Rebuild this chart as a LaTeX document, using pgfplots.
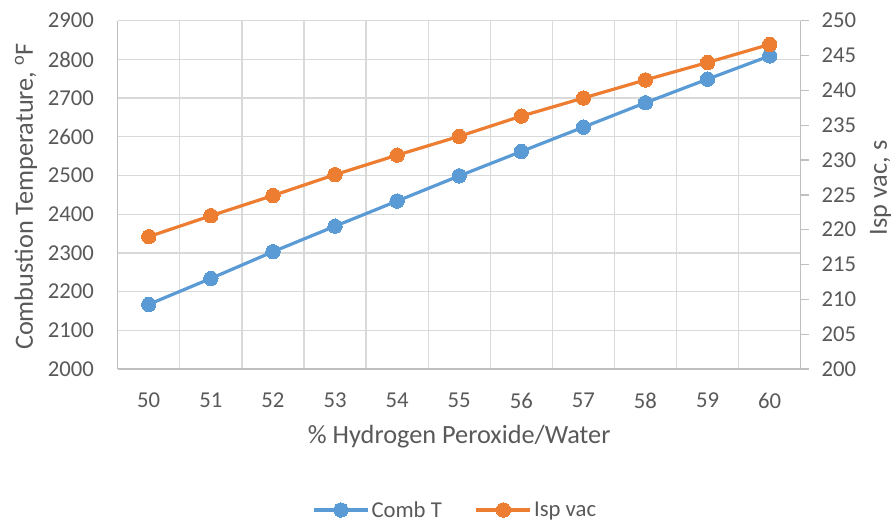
\documentclass[border=0pt]{standalone}
\usepackage{pgfplots}
\pgfplotsset{compat=1.18}
\usepackage{fontspec}
\setmainfont{Carlito}

\definecolor{combT}{HTML}{5B9BD5}
\definecolor{isp}{HTML}{ED7D31}
\definecolor{gridc}{HTML}{D9D9D9}
\definecolor{axisc}{HTML}{BFBFBF}
\definecolor{txt}{HTML}{595959}

\newcommand\tickfont{\fontsize{22.7bp}{27bp}\selectfont}
\newcommand\titlefont{\fontsize{26.3bp}{31bp}\selectfont}

\pgfplotsset{
  base/.style={
    scale only axis, width=683bp, height=348.3bp,
    at={(0,0)}, anchor=south west,
    xmin=-0.5, xmax=10.5,
    ticklabel style={font=\tickfont, text=txt},
    label style={font=\titlefont, text=txt},
    /pgf/number format/assume math mode=true,
    /pgf/number format/1000 sep={},
    scaled ticks=false,
  },
  serie/.style={color=#1, line width=3.2bp, mark=*, mark size=7.2bp,
    mark options={fill=#1, draw=#1, line width=0pt}},
}

\begin{document}
\begin{tikzpicture}
\useasboundingbox (-117.7bp,-152bp) rectangle (778.3bp,369bp);

% primary axis: combustion temperature
\begin{axis}[base,
  ymin=2000, ymax=2900, ytick={2000,2100,...,2900},
  xtick={0,...,10},
  xticklabels={50,51,52,53,54,55,56,57,58,59,60},
  minor xtick={0.5,1.5,...,9.5},
  xminorgrids, ymajorgrids,
  grid style={gridc, line width=1.3bp},
  minor grid style={gridc, line width=1.3bp},
  major tick length=0pt, minor tick length=0pt,
  axis x line*=bottom, axis y line*=left,
  axis line style={axisc, line width=1.3bp, -},
  yticklabel style={anchor=east, inner sep=0pt, xshift=-23.7bp},
  xticklabel style={anchor=north, inner sep=0pt, yshift=-24bp},
  xlabel={\% Hydrogen Peroxide/Water},
  xlabel style={at={(axis description cs:0.5,0)}, anchor=center, yshift=-68bp},
  ylabel={Combustion Temperature, \textsuperscript{o}F},
  ylabel style={at={(axis description cs:-0.1343,0.495)}, anchor=center},
]
\addplot[serie=combT] coordinates {
  (0,2167) (1,2234) (2,2303) (3,2369) (4,2434) (5,2499)
  (6,2562) (7,2625) (8,2688) (9,2749) (10,2809)};
\end{axis}

% secondary axis: vacuum specific impulse
\begin{axis}[base,
  ymin=200, ymax=250, ytick={200,205,...,250},
  axis y line*=right, axis x line=none,
  axis line style={axisc, line width=1.3bp, -},
  major tick length=8bp, tick align=outside,
  tick style={axisc, line width=1.3bp},
  yticklabel style={anchor=west, inner sep=0pt, xshift=12.6bp},
  ylabel={Isp vac, s},
  ylabel style={at={(axis description cs:1.117,0.52)}, anchor=center},
  legend style={at={(axis description cs:0.5,0)}, anchor=center, yshift=-141bp,
    xshift=-4bp, inner sep=0pt, nodes={inner sep=2bp},
    draw=none, fill=none, font=\tickfont, text=txt, legend columns=2,
    /tikz/every even column/.append style={column sep=31bp}},
  legend cell align=left,
  legend image code/.code={\draw[mark repeat=2, mark phase=2, #1]
    plot coordinates {(0bp,0bp) (27bp,0bp) (54bp,0bp)};},
]
\addlegendimage{serie=combT}
\addlegendentry{Comb T}
\addplot[serie=isp] coordinates {
  (0,219.0) (1,222.0) (2,224.9) (3,227.9) (4,230.7) (5,233.4)
  (6,236.3) (7,238.9) (8,241.5) (9,244.0) (10,246.6)};
\addlegendentry{Isp vac}
\end{axis}
\end{tikzpicture}
\end{document}
